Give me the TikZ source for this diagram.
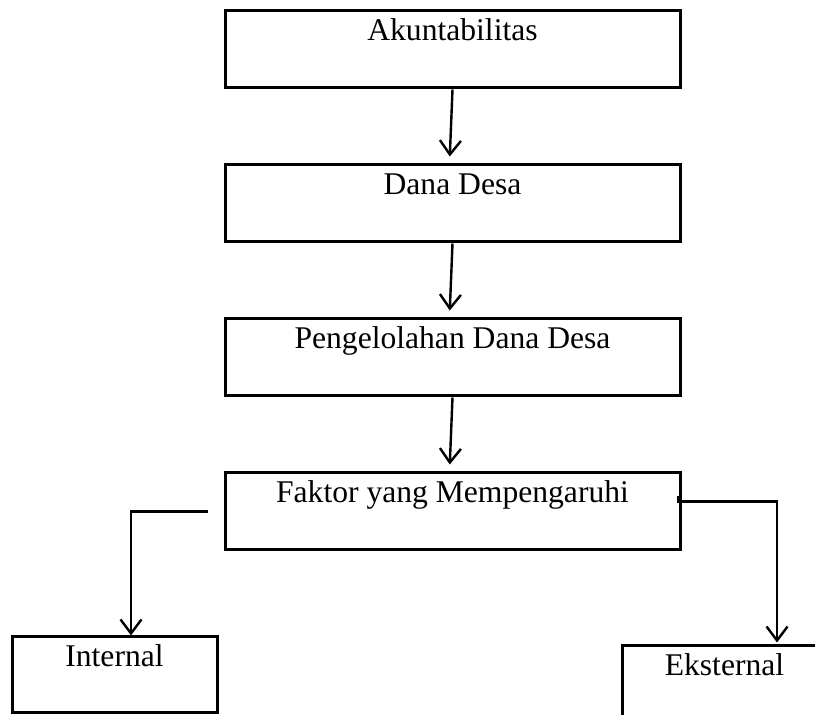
\documentclass[tikz,border=0pt]{standalone}
\usepackage{fontspec}
\setmainfont{Liberation Serif}
\usetikzlibrary{positioning, arrows.meta}

\begin{document}
\begin{tikzpicture}[node distance=77pt, font=\fontsize{15.8}{18}\selectfont]
        \tikzstyle{box} = [rectangle, draw=black, line width=1.5pt, minimum width=227.5pt, inner ysep=4.5pt, text height=10.5pt, text depth=19pt, text centered]
        \tikzstyle{smallbox} = [box, minimum width=102.5pt, text depth=18.5pt]
        \tikzstyle{arrow} = [line width=1.2pt, -{Straight Barb[length=7pt,width=10.5pt]}]

        \useasboundingbox (0,0) rectangle (407.5pt,-357.5pt);

        \node (akun) [box] at (226.25pt,-24.75pt) {Akuntabilitas};
        \node (dana) [box, below of=akun] {Dana Desa};
        \node (kelola) [box, below of=dana] {Pengelolahan Dana Desa};
        \node (faktor) [box, below of=kelola] {Faktor yang Mempengaruhi};
        \node (intern) [smallbox] at (57.25pt,-337.5pt) {Internal};
        \node (ekstern) [smallbox] at (362.25pt,-342pt) {Eksternal};

        \coordinate (lstart) at ([xshift=-8pt]faktor.west);
        \coordinate (rstart) at ([xshift=-1.5pt,yshift=7.5pt]faktor.east);

        \draw [arrow, shorten >=3.5pt] (akun.south) -- ([xshift=-1.5pt]dana.north);
        \draw [arrow, shorten >=3.5pt] (dana.south) -- ([xshift=-1.5pt]kelola.north);
        \draw [arrow, shorten >=3.5pt] (kelola.south) -- ([xshift=-1.5pt]faktor.north);
        \draw [arrow] (lstart) -| ([xshift=8.25pt]intern.north);
        \draw [arrow, shorten >=1pt] (rstart) -- ++(0,-2.5pt) -| ([xshift=26.25pt]ekstern.north);
\end{tikzpicture}
\end{document}
